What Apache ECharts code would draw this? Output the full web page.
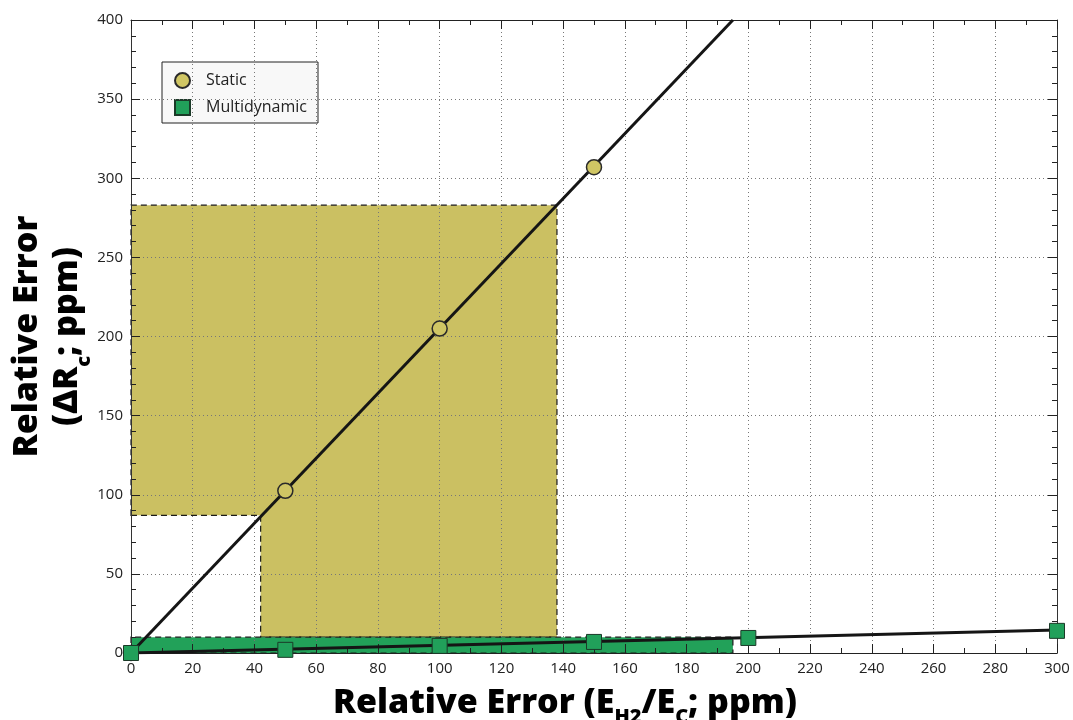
<!DOCTYPE html>
<html>
<head>
<meta charset="utf-8">
<script src="https://cdn.jsdelivr.net/npm/echarts@6/dist/echarts.min.js"></script>
<style>
html,body{margin:0;padding:0;background:#fff;}
#chart{width:1073px;height:720px;}
</style>
</head>
<body>
<div id="chart"></div>
<script>
// ---- data ----
var staticX = [0, 50, 100, 150];
var staticY = [0, 102.5, 205, 307];
var staticFitX = [0, 195];
var staticFitY = [0, 400];
var multiX = [0, 50, 100, 150, 200, 300];
var multiY = [0, 2, 4.5, 7, 9.5, 14];
var multiFitX = [0, 300];
var multiFitY = [0, 14.5];
// shaded regions (vertices)
var yellowX = [0, 0, 138, 138, 42, 42];
var yellowY = [87, 283, 283, 10, 10, 87];
var greenX = [0, 0, 195, 195];
var greenY = [0, 10, 10, 0];
var xTicks = {min: 0, max: 300, step: 20};
var yTicks = {min: 0, max: 400, step: 50};

function pairs(xs, ys) { return xs.map(function (x, i) { return [x, ys[i]]; }); }

function polySeries(name, xs, ys, fill) {
  var pts = pairs(xs, ys);
  return {
    type: 'custom', name: name, z: 1, silent: true,
    data: pts,
    renderItem: function (params, api) {
      if (params.dataIndex !== 0) return;
      var p = pts.map(function (d) { return api.coord(d); });
      return {
        type: 'polygon',
        shape: {points: p},
        style: {fill: fill, stroke: '#1a1a1a', lineWidth: 1.2, lineDash: [6, 4]}
      };
    }
  };
}

var font = "'Open Sans', 'DejaVu Sans', sans-serif";
var tickColor = '#222';
function xAx(pos, labels) {
  return {
    type: 'value', position: pos, min: xTicks.min, max: xTicks.max, interval: xTicks.step, z: 5,
    axisLine: {show: true, onZero: false, lineStyle: {color: '#222', width: 1}},
    axisTick: {show: true, inside: true, length: 9, lineStyle: {color: tickColor}},
    minorTick: {show: true, splitNumber: 2, length: 5, lineStyle: {color: tickColor}},
    axisLabel: {show: labels, fontFamily: font, fontSize: 15, color: '#222', margin: 8},
    splitLine: {show: labels, lineStyle: {color: '#777', type: [1, 3], width: 1}},
    name: labels ? '{a|Relative Error (E}{s|H2}{a|/E}{s|C}{a|; ppm)}' : '',
    nameLocation: 'middle', nameGap: 27,
    nameTextStyle: {
      padding: [0, 58, 0, 0],
      rich: {
        a: {fontFamily: font, fontWeight: 800, fontSize: 34, color: '#000', lineHeight: 40, verticalAlign: 'bottom'},
        s: {fontFamily: font, fontWeight: 800, fontSize: 20, color: '#000', lineHeight: 40, verticalAlign: 'bottom', padding: [0, 0, -7, 0]}
      }
    }
  };
}
function yAx(pos, labels) {
  return {
    type: 'value', position: pos, min: yTicks.min, max: yTicks.max, interval: yTicks.step, z: 5,
    axisLine: {show: true, onZero: false, lineStyle: {color: '#333', width: 1}},
    axisTick: {show: true, inside: true, length: 9, lineStyle: {color: tickColor}},
    minorTick: {show: true, splitNumber: 5, length: 5, lineStyle: {color: tickColor}},
    axisLabel: {show: labels, fontFamily: font, fontSize: 15, color: '#222', margin: 8},
    splitLine: {show: labels, lineStyle: {color: '#777', type: [1, 3], width: 1}},
    name: labels ? '{a|Relative Error}\n{a|(ΔR}{s|c}{a|; ppm)}' : '',
    nameLocation: 'middle', nameRotate: 90, nameGap: 47, nameMoveOverlap: false,
    nameTextStyle: {
      rich: {
        a: {fontFamily: font, fontWeight: 800, fontSize: 34, color: '#000', lineHeight: 40, verticalAlign: 'bottom'},
        s: {fontFamily: font, fontWeight: 800, fontSize: 20, color: '#000', lineHeight: 40, verticalAlign: 'bottom', padding: [0, 0, -10, 0]}
      }
    }
  };
}

var chart = echarts.init(document.getElementById('chart'), null, {renderer: 'canvas'});
chart.setOption({
  animation: false,
  backgroundColor: '#fff',
  grid: {left: 131, right: 16, top: 20, bottom: 67, outerBoundsMode: 'none', containLabel: false},
  xAxis: [xAx('bottom', true), xAx('top', false)],
  yAxis: [yAx('left', true), yAx('right', false)],
  legend: {
    data: ['Static', 'Multidynamic'],
    orient: 'vertical', left: 162, top: 62,
    padding: [10, 11, 7, 12], itemGap: 10, itemWidth: 15, itemHeight: 15,
    backgroundColor: '#f8f8f8', borderColor: '#222', borderWidth: 1, borderRadius: 0,
    textStyle: {fontFamily: font, fontSize: 16, color: '#222', padding: [0, 0, 0, 11]}
  },
  series: [
    polySeries('yellowShade', yellowX, yellowY, '#cbc062'),
    polySeries('greenShade', greenX, greenY, '#22a159'),
    {type: 'line', name: 'staticFit', data: pairs(staticFitX, staticFitY), symbol: 'none', z: 8,
     lineStyle: {color: '#151515', width: 3}, silent: true},
    {type: 'line', name: 'multiFit', data: pairs(multiFitX, multiFitY), symbol: 'none', z: 8,
     lineStyle: {color: '#151515', width: 3}, silent: true},
    {type: 'scatter', name: 'Static', data: pairs(staticX, staticY), symbol: 'circle', symbolSize: 15, z: 10,
     itemStyle: {color: '#d0c664', borderColor: '#2a2a2a', borderWidth: 1.5, opacity: 1}},
    {type: 'scatter', name: 'Multidynamic', data: pairs(multiX, multiY), symbol: 'rect', symbolSize: 15, z: 11,
     itemStyle: {color: '#21a05a', borderColor: '#1b3a28', borderWidth: 1, opacity: 1}}
  ]
});
</script>
</body>
</html>
